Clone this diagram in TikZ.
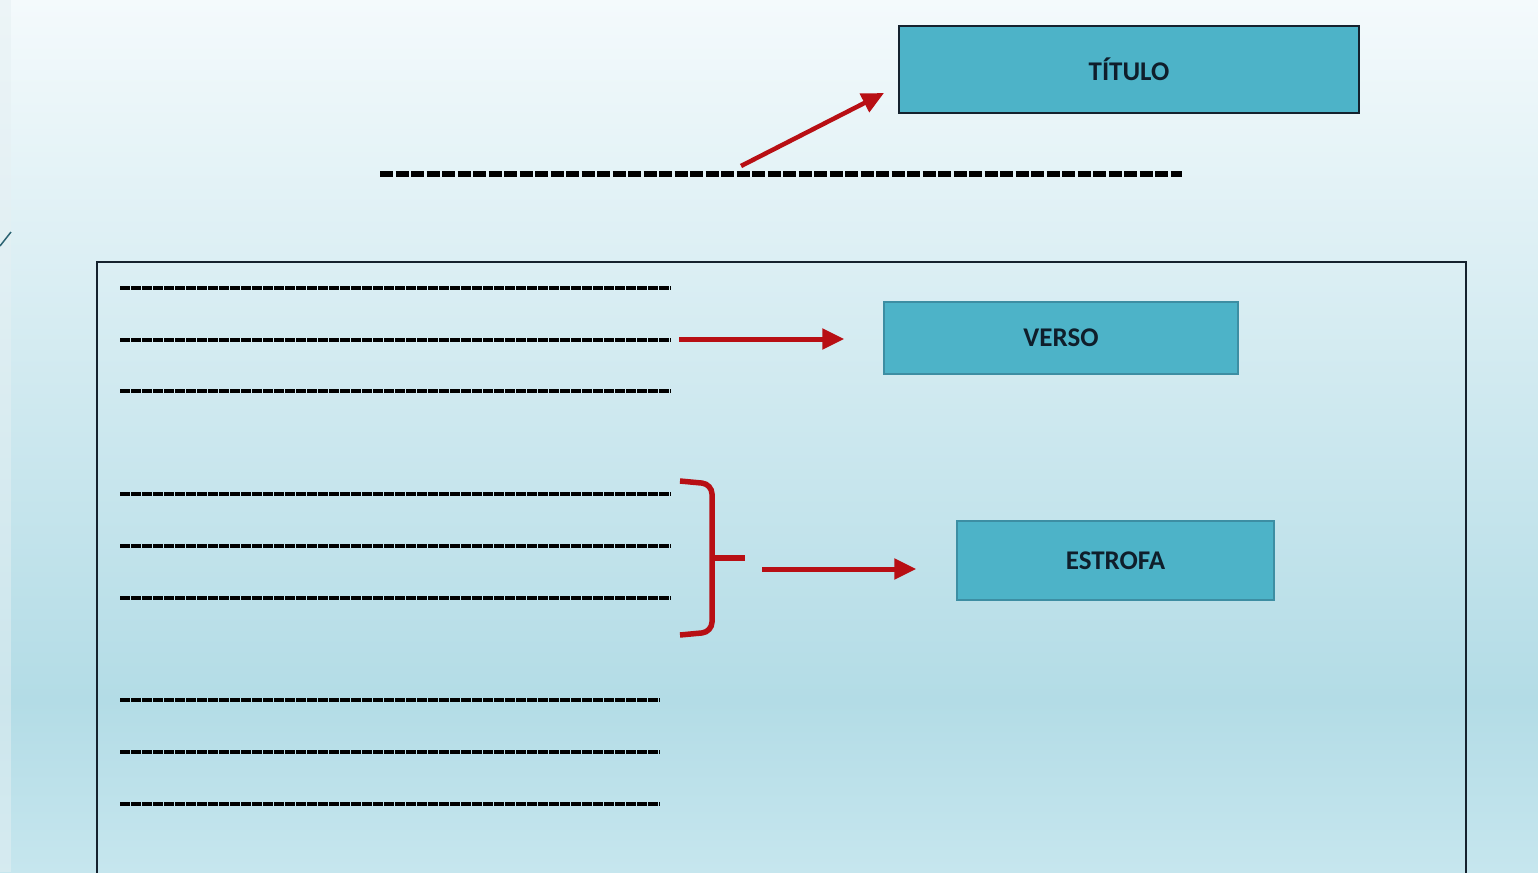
\documentclass[tikz,border=0pt]{standalone}
\usepackage{fontspec}
\setmainfont{Carlito}
\usetikzlibrary{arrows.meta}
\definecolor{bgtop}{HTML}{F4FAFC}
\definecolor{bgmid}{HTML}{B3DCE6}
\definecolor{bgbot}{HTML}{C6E6EE}
\definecolor{boxfill}{HTML}{4DB3C8}
\definecolor{boxline}{HTML}{15222E}
\definecolor{boxline2}{HTML}{3D8EA3}
\definecolor{txt}{HTML}{0F1E2B}
\definecolor{arrowred}{HTML}{B80F14}
\definecolor{strip}{HTML}{E6F0F3}
\tikzset{
  labelbox/.style={draw=boxline, line width=2pt, fill=boxfill, inner sep=0pt,
    font=\fontsize{27}{30}\selectfont\bfseries, text=txt},
  labelboxlight/.style={labelbox, draw=boxline2, line width=1.2pt},
  redarrow/.style={draw=arrowred, line width=5pt, -{Triangle[length=22pt,width=20pt]}},
  verseline/.style={draw=black, line width=4.5pt, dash pattern=on 9.5pt off 1.5pt},
  titleline/.style={draw=black, line width=6.5pt, dash pattern=on 13pt off 2.5pt},
  bracestyle/.style={draw=arrowred, line width=5.5pt, rounded corners=10pt}
}
\begin{document}
\begin{tikzpicture}[x=1pt,y=-1pt]
\useasboundingbox (0,0) rectangle (1538,872);
% background
\shade[top color=bgtop, bottom color=bgmid] (0,0) rectangle (1538,700);
\shade[top color=bgmid, bottom color=bgbot] (0,700) rectangle (1538,872);
\fill[strip, opacity=0.5] (0,0) rectangle (11,872);
\draw[draw=boxline2!70!black, line width=1.5pt] (0,246) -- (11,232);

% title
\node[labelbox, minimum width=460pt, minimum height=87pt] (titulo) at (1129,69.5) {TÍTULO};
\coordinate (tl1) at (380,174);
\coordinate (tl2) at (1182,174);
\draw[titleline] (tl1) -- (tl2);
\coordinate (tas) at (741,166);
\coordinate (tae) at (884,93);
\draw[redarrow, line width=4.5pt] (tas) -- (tae);

% main frame
\coordinate (fr1) at (97,262);
\coordinate (fr2) at (1466,880);
\draw[draw=boxline, line width=2pt] (fr1) rectangle (fr2);

% verse lines
\foreach \y/\xe in {288/671,340/671,391/671,494/671,546/671,598/671,700/660,752/660,804/660}{
  \draw[verseline] (120,\y) -- (\xe,\y);
}

% verso
\node[labelboxlight, minimum width=354pt, minimum height=72pt] (verso) at (1061,338) {VERSO};
\coordinate (vas) at (679,339);
\draw[redarrow, shorten >=39pt] (vas) -- (verso.west |- vas);

% brace
\draw[bracestyle] (680,481) -- (712,484) -- (712,632) -- (680,635);
\draw[draw=arrowred, line width=5.5pt] (712,558) -- (745,558);

% estrofa
\node[labelboxlight, minimum width=317pt, minimum height=79pt] (estrofa) at (1115.5,560.5) {ESTROFA};
\coordinate (eas) at (762,569);
\draw[redarrow, shorten >=40pt] (eas) -- (estrofa.west |- eas);
\end{tikzpicture}
\end{document}
